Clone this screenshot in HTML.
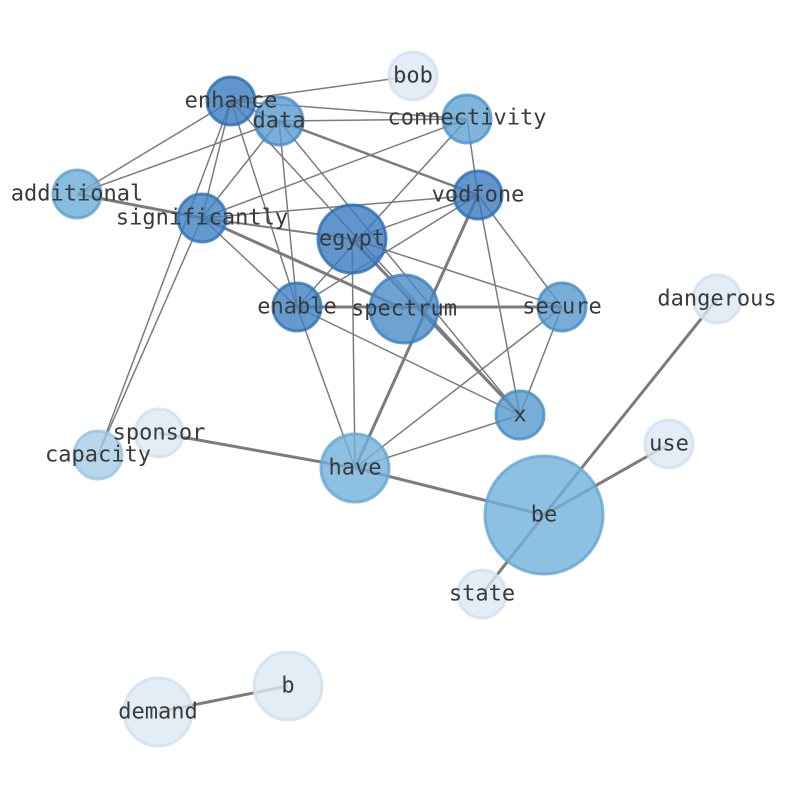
<!DOCTYPE html><html><head><style>body{margin:0;background:#fff}svg text{font-family:"DejaVu Sans Mono","Liberation Mono",monospace;font-size:22px;fill:#3a3a3a;text-anchor:middle;dominant-baseline:central}</style></head><body>
<svg width="794" height="790" viewBox="0 0 794 790">
<g stroke="#6e6e6e" stroke-width="1.5" opacity="0.9">
<line x1="231" y1="101" x2="413" y2="76"/><line x1="231" y1="101" x2="467" y2="119"/><line x1="231" y1="101" x2="279" y2="121"/><line x1="231" y1="101" x2="77" y2="194"/><line x1="231" y1="101" x2="202" y2="218"/><line x1="231" y1="101" x2="98" y2="455"/><line x1="231" y1="101" x2="297" y2="307"/><line x1="231" y1="101" x2="520" y2="415"/>
<line x1="279" y1="121" x2="467" y2="119"/><line x1="279" y1="121" x2="77" y2="194"/><line x1="279" y1="121" x2="202" y2="218"/><line x1="279" y1="121" x2="297" y2="307"/><line x1="279" y1="121" x2="478" y2="195" stroke-width="2.5"/><line x1="279" y1="121" x2="520" y2="415"/>
<line x1="467" y1="119" x2="202" y2="218"/><line x1="467" y1="119" x2="297" y2="307"/><line x1="467" y1="119" x2="478" y2="195"/>
<line x1="77" y1="194" x2="202" y2="218" stroke-width="3"/><line x1="202" y1="218" x2="478" y2="195"/><line x1="202" y1="218" x2="352" y2="239" stroke-width="2"/><line x1="202" y1="218" x2="404" y2="309" stroke-width="3"/><line x1="202" y1="218" x2="297" y2="307"/><line x1="202" y1="218" x2="98" y2="455"/>
<line x1="478" y1="195" x2="352" y2="239"/><line x1="478" y1="195" x2="297" y2="307"/><line x1="478" y1="195" x2="562" y2="307"/><line x1="478" y1="195" x2="520" y2="415"/><line x1="478" y1="195" x2="355" y2="468" stroke-width="3"/>
<line x1="352" y1="239" x2="562" y2="307"/><line x1="352" y1="239" x2="355" y2="468"/><line x1="352" y1="239" x2="520" y2="415" stroke-width="3"/>
<line x1="297" y1="307" x2="562" y2="307" stroke-width="3"/><line x1="297" y1="307" x2="520" y2="415"/><line x1="297" y1="307" x2="355" y2="468"/>
<line x1="562" y1="307" x2="520" y2="415"/><line x1="562" y1="307" x2="355" y2="468"/><line x1="520" y1="415" x2="355" y2="468"/>
<line x1="159" y1="433" x2="355" y2="468" stroke-width="3"/><line x1="355" y1="468" x2="544" y2="515" stroke-width="3"/><line x1="544" y1="515" x2="717" y2="299" stroke-width="3"/><line x1="544" y1="515" x2="669" y2="444" stroke-width="3"/><line x1="544" y1="515" x2="482" y2="594" stroke-width="3"/><line x1="288" y1="686" x2="158" y2="712" stroke-width="3"/>
</g>
<g stroke-width="3" fill-opacity="0.8" stroke-opacity="0.8">
<circle cx="413" cy="76" r="24" fill="#dce8f4" stroke="#d0e0f0"/>
<circle cx="231" cy="101" r="24" fill="#3a7bbf" stroke="#2a6db3"/>
<circle cx="279" cy="121" r="24" fill="#5a9bcf" stroke="#4a8cc6"/>
<circle cx="467" cy="119" r="24" fill="#5fa2d2" stroke="#4e95ca"/>
<circle cx="77" cy="194" r="24" fill="#6aacd6" stroke="#5aa0d0"/>
<circle cx="478" cy="195" r="24" fill="#3a7bbf" stroke="#2a6db3"/>
<circle cx="202" cy="218" r="24" fill="#3f81c2" stroke="#2f72b6"/>
<circle cx="352" cy="239" r="34" fill="#3a7bbf" stroke="#2a6db3"/>
<circle cx="297" cy="307" r="24" fill="#3f81c2" stroke="#2f72b6"/>
<circle cx="404" cy="309" r="34" fill="#4a8cc6" stroke="#3a7fbf"/>
<circle cx="562" cy="307" r="24" fill="#5599cd" stroke="#468dc6"/>
<circle cx="717" cy="299" r="24" fill="#dce8f4" stroke="#d0e0f0"/>
<circle cx="520" cy="415" r="24" fill="#5599cd" stroke="#468dc6"/>
<circle cx="159" cy="433" r="24" fill="#dce8f4" stroke="#d0e0f0"/>
<circle cx="98" cy="455" r="24" fill="#a6cce4" stroke="#9ac4e0"/>
<circle cx="669" cy="444" r="24" fill="#dce8f4" stroke="#d0e0f0"/>
<circle cx="355" cy="468" r="34" fill="#72b0da" stroke="#64a6d4"/>
<circle cx="544" cy="515" r="59" fill="#72b0da" stroke="#64a6d4"/>
<circle cx="482" cy="594" r="24" fill="#dce8f4" stroke="#d0e0f0"/>
<circle cx="288" cy="686" r="34" fill="#dce8f4" stroke="#d0e0f0"/>
<circle cx="158" cy="712" r="34" fill="#dce8f4" stroke="#d0e0f0"/>
</g>
<g>
<text x="413" y="76">bob</text><text x="231" y="101">enhance</text><text x="279" y="121">data</text><text x="467" y="118">connectivity</text><text x="77" y="194">additional</text><text x="478" y="195">vodfone</text><text x="202" y="218">significantly</text><text x="352" y="239">egypt</text><text x="297" y="307">enable</text><text x="404" y="309">spectrum</text><text x="562" y="307">secure</text><text x="717" y="299">dangerous</text><text x="520" y="415">x</text><text x="159" y="433">sponsor</text><text x="98" y="455">capacity</text><text x="669" y="444">use</text><text x="355" y="468">have</text><text x="544" y="515">be</text><text x="482" y="594">state</text><text x="288" y="686">b</text><text x="158" y="712">demand</text>
</g>
</svg></body></html>
